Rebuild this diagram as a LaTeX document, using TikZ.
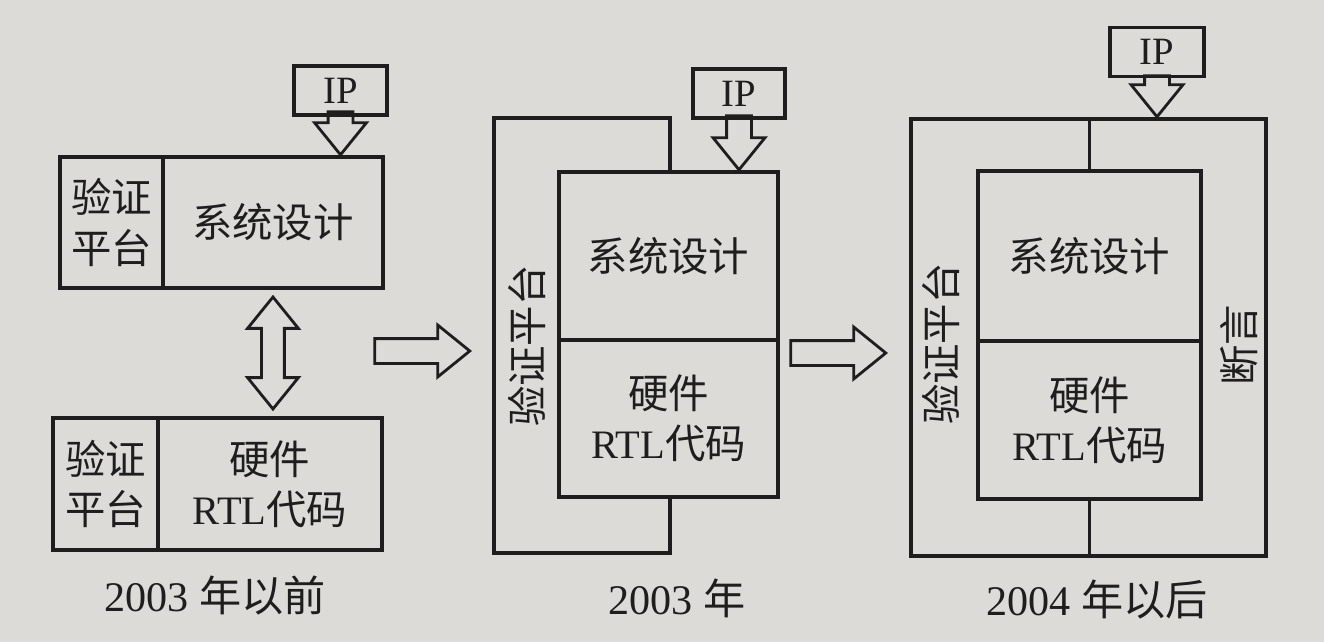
\documentclass[tikz,border=0pt]{standalone}
\usepackage{fontspec}
\setmainfont{Liberation Serif}
\newfontfamily\cjk{Noto Sans CJK SC}
\usetikzlibrary{positioning,calc,shapes.arrows}
\definecolor{paper}{RGB}{221,219,215}
\definecolor{ink}{RGB}{30,30,30}

\begin{document}
\begin{tikzpicture}[x=0.02cm, y=-0.02cm,
    box/.style={draw=ink, line width=1.9pt, inner sep=0pt, outer sep=0pt, align=center,
                text=ink, font=\fontsize{23}{28.5}\selectfont},
    ipbox/.style={box, minimum height=0.98cm, font=\fontsize{22}{26}\selectfont},
    caption/.style={text=ink, font=\fontsize{24}{28}\selectfont},
    side/.style={rotate=90, text=ink, font=\fontsize{23}{28}\selectfont\cjk},
    wire/.style={draw=ink, line width=1.9pt},
    hollow/.style={draw=ink, line width=1.6pt, single arrow, single arrow tip angle=78,
                   single arrow head extend=0.27cm, inner xsep=0pt, inner ysep=0.22cm},
    twoway/.style={draw=ink, line width=1.6pt, double arrow, double arrow tip angle=78,
                   double arrow head extend=0.28cm, inner xsep=0pt, inner ysep=0.2cm}
]
\fill[paper] (0,0) rectangle (1324,642);
\useasboundingbox (0,0) rectangle (1324,642);

% before 2003
\node[ipbox, minimum width=1.86cm] (ip1) at (340.5,90.5) {IP};
\node[box, minimum width=2.06cm, minimum height=2.62cm] (vp1a) at (111.5,222.5) {\cjk 验证\\\cjk 平台};
\node[box, minimum width=4.4cm, minimum height=2.62cm, right=0pt of vp1a] (sys1) {\cjk 系统设计};
\node[box, minimum width=2.1cm, minimum height=2.64cm] (vp1b) at (105.5,484) {\cjk 验证\\\cjk 平台};
\node[box, minimum width=4.48cm, minimum height=2.64cm, right=0pt of vp1b] (rtl1) {{\cjk 硬件}\\RTL{\cjk 代码}};
\node[hollow, rotate=-90, minimum height=0.86cm, anchor=tip] (ipin1) at (ip1.south |- sys1.north) {};
\node[twoway, rotate=90, minimum height=2.24cm] (link1) at ($(sys1.south)!0.5!(sys1.south |- rtl1.north)$) {};
\node[caption] (era1) at (215,595) {2003 {\cjk 年以前}};

\node[hollow, minimum height=1.9cm, anchor=tip] (next1) at (472,351) {};

% 2003
\node[ipbox, minimum width=1.84cm] (ip2) at (739,93.5) {IP};
\node[box, minimum width=4.38cm, minimum height=3.36cm] (sys2) at (668.5,256) {\cjk 系统设计};
\node[box, minimum width=4.38cm, minimum height=3.14cm, below=0pt of sys2] (rtl2) {{\cjk 硬件}\\RTL{\cjk 代码}};
\node[hollow, rotate=-90, minimum height=1.08cm, anchor=tip] (ipin2) at (ip2.south |- sys2.north) {};
\coordinate (top2) at (670,118);
\coordinate (bot2) at (670,553);
\draw[wire] (sys2.north -| top2) -- (top2) -- (494,118) -- (494,553) -- (bot2) -- (rtl2.south -| bot2);
\node[side] (vp2) at (527,346) {验证平台};
\node[caption] (era2) at (677,598) {2003 {\cjk 年}};

\node[hollow, minimum height=1.9cm, anchor=tip] (next2) at (888,353) {};

% after 2004
\node[box, minimum width=7.1cm, minimum height=8.74cm] (frame3) at (1088.5,337.5) {};
\node[ipbox, minimum width=1.88cm] (ip3) at (1157,52) {IP};
\node[box, minimum width=4.46cm, minimum height=3.4cm] (sys3) at (1089.5,256) {\cjk 系统设计};
\node[box, minimum width=4.46cm, minimum height=3.16cm, below=0pt of sys3] (rtl3) {{\cjk 硬件}\\RTL{\cjk 代码}};
\node[hollow, rotate=-90, minimum height=0.82cm, anchor=tip] (ipin3) at (ip3.south |- frame3.north) {};
\draw[wire] (sys3.north) -- (sys3.north |- frame3.north);
\draw[wire] (rtl3.south) -- (rtl3.south |- frame3.south);
\node[side] (vp3) at (941,344) {验证平台};
\node[side] (assert3) at (1239,345) {断言};
\node[caption] (era3) at (1097,600) {2004 {\cjk 年以后}};
\end{tikzpicture}
\end{document}
